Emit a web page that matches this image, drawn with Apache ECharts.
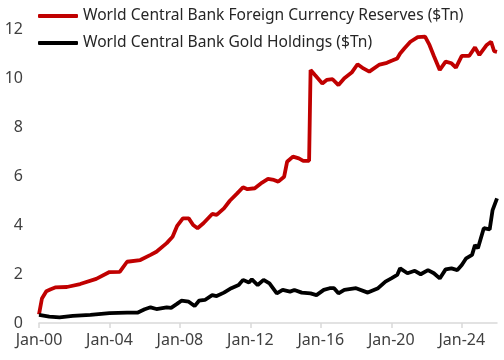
<!DOCTYPE html>
<html>
<head>
<meta charset="utf-8">
<script src="https://cdn.jsdelivr.net/npm/echarts@6/dist/echarts.min.js"></script>
<style>html,body{margin:0;padding:0;background:#fff}#c{width:504px;height:360px}</style>
</head>
<body>
<div id="c"></div>
<script>
// months since Jan-2000
const reserveMonths = [0,1,2,3,5,8,11,19,28,39,48,55,60,69,76,80,87,91,94,98,102,105,108,112,118,121,126,130,135,139,142,147,152,156,160,163,167,169,173,177,180,184,185,188,193,196,200,204,208,213,217,221,225,232,237,241,244,246,249,253,258,263,266,269,273,277,281,284,288,293,297,300,305,308,310,312];
const reserveValues = [0.35,0.35,1.0,1.05,1.3,1.38,1.45,1.47,1.59,1.80,2.08,2.09,2.50,2.57,2.78,2.91,3.26,3.52,3.95,4.27,4.27,4.0,3.87,4.07,4.45,4.41,4.68,4.99,5.29,5.54,5.46,5.50,5.73,5.88,5.84,5.77,5.97,6.58,6.79,6.72,6.62,6.62,10.33,10.12,9.78,9.92,9.95,9.71,9.99,10.22,10.56,10.39,10.26,10.55,10.62,10.72,10.80,11.0,11.21,11.48,11.67,11.69,11.35,10.90,10.33,10.67,10.60,10.42,10.90,10.90,11.25,10.94,11.35,11.48,11.10,11.07];
const goldMonths = [0,7,14,23,35,48,60,67,72,76,80,87,90,94,97,102,106,109,113,118,121,126,131,136,139,143,145,149,153,157,162,166,171,174,179,185,189,194,198,201,204,208,216,224,231,236,240,244,246,251,256,260,265,269,273,277,281,285,288,291,295,297,299,303,307,309,312];
const goldValues = [0.33,0.26,0.23,0.29,0.33,0.40,0.42,0.42,0.56,0.64,0.57,0.64,0.62,0.78,0.91,0.87,0.69,0.91,0.94,1.14,1.10,1.24,1.42,1.55,1.76,1.65,1.78,1.55,1.76,1.62,1.21,1.35,1.28,1.35,1.24,1.21,1.14,1.35,1.42,1.42,1.21,1.35,1.42,1.24,1.42,1.69,1.82,1.96,2.23,2.03,2.13,1.99,2.16,2.03,1.82,2.19,2.23,2.16,2.37,2.64,2.78,3.18,3.05,3.87,3.82,4.61,5.09];
const tickMonths = [0,48,96,144,192,240,288];
const tickLabels = ['Jan-00','Jan-04','Jan-08','Jan-12','Jan-16','Jan-20','Jan-24'];
const seriesNames = ['World Central Bank Foreign Currency Reserves ($Tn)','World Central Bank Gold Holdings ($Tn)'];

const zip = (xs, ys) => xs.map((x, i) => [x, ys[i]]);
const font = 'Noto Sans';
const chart = echarts.init(document.getElementById('c'), null, {renderer: 'canvas'});
chart.setOption({
  animation: false,
  backgroundColor: '#fff',
  textStyle: {fontFamily: font},
  legend: {
    orient: 'vertical', left: 38, top: 8, padding: 0, itemGap: 11,
    itemWidth: 40, itemHeight: 4, icon: 'roundRect',
    textStyle: {fontFamily: font, fontSize: 15.6, color: '#262626'},
    data: seriesNames
  },
  grid: {left: 39, right: 7, top: 29, bottom: 37, containLabel: false},
  xAxis: {
    type: 'value', min: 0, max: 312,
    axisLine: {show: true, lineStyle: {color: '#d9d9d9', width: 1.5}},
    axisTick: {show: true, length: 5, lineStyle: {color: '#d9d9d9', width: 1.5}, customValues: tickMonths},
    splitLine: {show: false},
    axisLabel: {
      customValues: tickMonths, margin: 9, fontSize: 16, color: '#404040', fontFamily: font,
      formatter: v => tickLabels[tickMonths.indexOf(v)] || ''
    }
  },
  yAxis: {
    type: 'value', min: 0, max: 12, interval: 2,
    axisLine: {show: false}, axisTick: {show: false}, splitLine: {show: false},
    axisLabel: {margin: 16, fontSize: 16, color: '#404040', fontFamily: font}
  },
  series: [
    {name: seriesNames[0], type: 'line', data: zip(reserveMonths, reserveValues), showSymbol: false, symbol: 'none',
     lineStyle: {color: '#C00000', width: 3.8}, itemStyle: {color: '#C00000'}},
    {name: seriesNames[1], type: 'line', data: zip(goldMonths, goldValues), showSymbol: false, symbol: 'none',
     lineStyle: {color: '#000000', width: 3.8}, itemStyle: {color: '#000000'}}
  ]
});
</script>
</body>
</html>
